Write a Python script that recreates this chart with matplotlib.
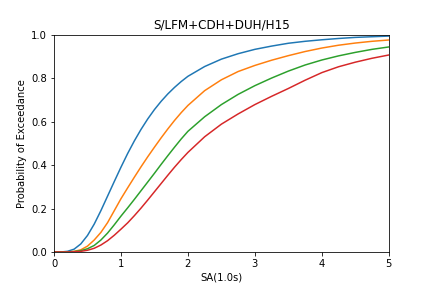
import matplotlib
matplotlib.use("Agg")
import matplotlib.pyplot as plt

# SA(1.0s) sample points and exceedance probabilities
sa = [0.0, 0.1, 0.2, 0.3, 0.4, 0.5, 0.6, 0.7, 0.8, 0.9, 1.0, 1.1, 1.2, 1.3,
      1.4, 1.5, 1.6, 1.7, 1.8, 1.9, 2.0, 2.25, 2.5, 2.75, 3.0, 3.25, 3.5,
      3.75, 4.0, 4.25, 4.5, 4.75, 5.0]

slight = [0.0, 0.0, 0.003, 0.013, 0.037, 0.076, 0.128, 0.19, 0.257, 0.324,
          0.39, 0.453, 0.511, 0.564, 0.612, 0.655, 0.693, 0.727, 0.757,
          0.784, 0.808, 0.853, 0.887, 0.912, 0.932, 0.947, 0.96, 0.969,
          0.976, 0.982, 0.987, 0.99, 0.993]
moderate = [0.0, 0.0, 0.0, 0.003, 0.01, 0.027, 0.055, 0.09, 0.135, 0.19,
            0.245, 0.295, 0.344, 0.392, 0.438, 0.482, 0.525, 0.566, 0.605,
            0.641, 0.674, 0.742, 0.792, 0.83, 0.858, 0.882, 0.903, 0.922,
            0.938, 0.951, 0.961, 0.969, 0.975]
extensive = [0.0, 0.0, 0.0, 0.002, 0.006, 0.015, 0.03, 0.055, 0.087, 0.125,
             0.165, 0.203, 0.242, 0.282, 0.322, 0.362, 0.403, 0.443, 0.482,
             0.52, 0.555, 0.622, 0.678, 0.725, 0.765, 0.80, 0.832, 0.86,
             0.883, 0.902, 0.918, 0.932, 0.943]
complete = [0.0, 0.0, 0.0, 0.001, 0.003, 0.008, 0.017, 0.032, 0.052, 0.077,
            0.105, 0.134, 0.167, 0.202, 0.239, 0.277, 0.315, 0.353, 0.39,
            0.425, 0.458, 0.53, 0.588, 0.635, 0.678, 0.716, 0.752, 0.79,
            0.825, 0.852, 0.873, 0.891, 0.906]

fig, ax = plt.subplots(figsize=(6, 4), dpi=72)
fig.subplots_adjust(bottom=0.125)
for ys in (slight, moderate, extensive, complete):
    ax.plot(sa, ys)

ax.set_xlim(0, 5)
ax.set_ylim(0, 1)
ax.set_title("S/LFM+CDH+DUH/H15")
ax.set_xlabel("SA(1.0s)")
ax.set_ylabel("Probability of Exceedance")

fig.savefig("out.png", dpi=72)
plt.close(fig)
